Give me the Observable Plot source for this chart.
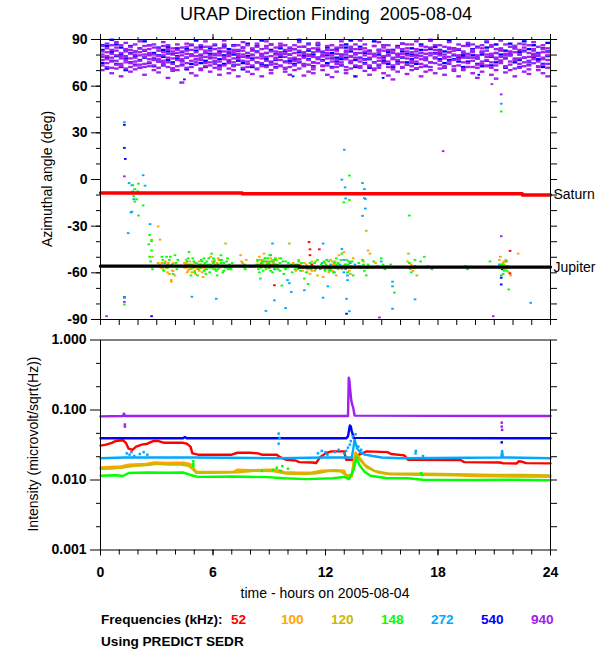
<!DOCTYPE html>
<html><head><meta charset="utf-8">
<script src="https://cdn.jsdelivr.net/npm/d3@7"></script>
<script src="https://cdn.jsdelivr.net/npm/@observablehq/plot@0.6"></script>
<style>
body{margin:0;background:#fff;font-family:"Liberation Sans",Arial,sans-serif;}
#wrap{position:relative;width:600px;height:650px;overflow:hidden;background:#fff;}
.abs{position:absolute;white-space:pre;line-height:16px;}
g[aria-label$="tick label"] text, g[aria-label$="tick label"]{font-weight:bold;}
</style></head><body><div id="wrap"></div>
<script>
// ---------- axes / labels ----------
const hourTicks = [0,1,2,3,4,5,6,7,8,9,10,11,12,13,14,15,16,17,18,19,20,21,22,23,24];
const hourMajor = [0,6,12,18,24];
const angleMajor = [-90,-60,-30,0,30,60,90];
const angleAll = [-90,-80,-70,-60,-50,-40,-30,-20,-10,0,10,20,30,40,50,60,70,80,90];
const intMajor = [0.001,0.01,0.1,1];
const intMinor = [0.00215,0.00464,0.0215,0.0464,0.215,0.464];
const freqLabels = ["52","100","120","148","272","540","940"];
const freqColors = ["#ff0000","#ffa500","#ccb800","#00ff00","#00a8ff","#0000ff","#a020f0"];
const title = "URAP Direction Finding  2005-08-04";
const yLabelTop = "Azimuthal angle (deg)";
const yLabelBottom = "Intensity (microvolt/sqrt(Hz))";
const xLabel = "time - hours on 2005-08-04";

// ---------- planets (azimuth, deg) ----------
const saturnT = [0, 7.56, 7.56, 22.5, 22.5, 24];
const saturnA = [-8.6, -8.6, -9.2, -9.2, -9.9, -9.9];
const jupiterT = [0, 10.6, 10.6, 24];
const jupiterA = [-55.7, -55.7, -56.3, -56.3];

// ---------- dense 65-90 deg band: "hour: angles" ----------
const band940 = `0:85.5 80 76.5 73 82 78.5 70
0.25:87 81.5 77 74.5 79 72 84
0.5:83 78 75.5 71.5 80.5 86 68
0.75:84.5 79.5 76 73.5 82.5 71 88
1:86 81 77.5 74 78.5 72.5 66
1.25:82 79 75 83.5 76.5 71 87.5
1.5:85 80.5 74.5 72 77.5 83 69
1.75:86.5 82 78 75.5 80 73 70.5
2:84 79.5 76 71.5 81.5 73.5 88.5
2.25:83 78.5 74 80 85.5 72 67
2.5:86 81 77 75 79.5 72.5 83.5
2.75:84.5 80 76.5 73 78 70 86.5
3:82.5 79 75.5 71.5 77 84 68.5
3.25:85.5 81.5 76 73.5 79.5 74.5 88
3.5:83.5 78 75 72 80.5 86 65
3.75:84 80 77.5 74 82 71 69.5
4:86.5 81 76.5 72.5 78.5 83 70
4.25:82 79.5 75.5 73 84.5 77 62
4.5:85 80.5 78 74.5 82.5 71.5 87
4.75:83 79 76 72 80 86.5 68
5:84.5 81.5 77 73.5 75 79 66.5
5.25:86 80 76.5 71 78 83.5 70
5.5:82.5 78.5 74.5 72.5 81 85 88.5
5.75:85 79.5 77.5 75 82.5 73 69
6:83.5 80.5 76 74 78 86.5 71.5
6.25:84 81 75.5 72 79.5 70.5 67
6.5:86.5 78.5 77 73 82 84.5 89
6.75:82 80 76.5 74.5 79 71 68
7:85.5 81.5 75 72.5 77.5 83 70
7.25:83 79 77 73.5 80.5 86 66
7.5:84.5 80 76 71.5 78.5 82.5 88
7.75:86 81 78 74 75.5 72 69
8:82.5 79.5 76.5 73 80 84 67.5
8.25:85 78 75 71 81.5 87 70.5
8.5:83.5 80.5 77.5 74.5 79 72.5 66
8.75:84 81 76 72 78.5 85.5 88.5
9:86.5 79 75.5 73.5 82 70 68
9.25:82 80 77 74 78 84.5 71.5
9.5:85.5 81.5 76.5 72.5 79.5 73 87
9.75:83 78.5 75 71.5 80.5 86 69
10:84.5 80 77.5 74.5 82.5 72 67
10.25:86 81 76 73 78 83.5 70
10.5:82.5 79.5 75.5 71 77 85 88
10.75:85 80.5 78 74 81.5 72.5 66.5
11:83.5 79 76.5 73.5 80 86.5 69
11.25:84 81.5 75 72 78.5 70.5 68
11.5:86.5 78 77 74.5 82 84 87.5
11.75:82 80 76 72.5 79 73 70
12:85.5 81 77.5 73 80.5 83 67
12.25:83 79.5 75.5 71.5 78 86 65.5
12.5:84.5 80.5 76.5 74 82.5 72 69
12.75:86 78.5 75 73.5 79.5 84.5 88.5
13:82.5 81.5 77 72 80 70 68
13.25:85 79 76 74.5 78.5 83.5 71
13.5:83.5 80 78 73 81 86.5 66
13.75:84 81 75.5 71.5 77.5 72.5 89
14:86.5 79.5 76.5 74 82 84 69.5
14.25:82 78 77.5 72.5 80.5 73 67
14.5:85.5 80.5 75 71 79 85.5 70
14.75:83 81.5 76 73.5 78 71.5 88
15:84.5 79 77 74.5 82.5 86 68
15.25:86 80 75.5 72 79.5 83 66.5
15.5:82.5 81 78 73 77 70.5 64
15.75:85 78.5 76.5 74 80.5 84.5 69
16:83.5 80.5 75 71.5 78.5 72 87
16.25:84 79.5 77.5 73.5 82 86.5 67.5
16.5:86.5 81.5 76 72.5 79 74.5 70
16.75:82 80 75.5 71 78 83.5 88.5
17:85.5 79 77 74 81 72 66
17.25:83 78 76.5 73 80.5 85 69
17.5:84.5 81 75 72 79.5 70 89.5
17.75:86 80.5 78 74.5 77.5 83 68
18:82.5 79.5 76 73.5 81.5 86 71
18.25:85 78.5 77.5 71.5 80 72.5 67
18.5:83.5 81.5 75.5 74 78.5 84.5 88
18.75:84 80 76.5 72.5 82.5 70.5 69.5
19:86.5 79 77 73 79.5 83.5 66
19.25:82 81 75 71 78 85.5 70
19.5:85.5 80.5 78 74.5 80 72 87.5
19.75:83 78 76 72 81.5 86.5 68
20:84.5 79.5 77.5 73.5 79 71.5 65
20.25:86 81.5 75.5 74 82 84 69
20.5:82.5 80 76.5 72.5 78.5 73 88.5
20.75:85 79 75 71.5 80.5 86 67
21:83.5 81 77 73 78 70 64.5
21.25:84 78.5 76 74.5 82.5 83 89
21.5:86.5 80.5 78 72 79.5 72.5 68.5
21.75:82 79.5 75.5 73.5 81 85 70
22:85.5 81.5 76.5 71 77.5 84 66
22.25:83 80 77.5 74 80 71.5 87
22.5:84.5 78 75 72.5 82 86.5 69
22.75:86 81 76 73 78.5 70.5 67.5
23:82.5 79 77 74.5 80.5 83.5 88
23.25:85 80.5 75.5 72 79 72.5 70
23.5:83.5 81.5 78 73.5 77 86 68
23.75:84 79.5 76.5 71.5 81.5 74 66`;

const band540 = `0:83 74.5 86
0.25:78 71 85.5
0.5:81.5 76 89.5
0.75:74 86.5 79
1:80 72 84.5
1.25:77.5 83 70
1.5:85.5 75 81
1.75:79 73.5 82
2:76.5 84 71.5
2.25:82.5 78 88.5
2.5:74.5 80 86
2.75:81 77 72.5
3:84.5 75.5 79.5
3.25:78.5 73 83
3.5:82 76.5 85
3.75:75 80.5 71
4:79 84 77.5
4.25:76 81.5 73.5
4.5:83.5 78 70.5
4.75:80 74 86
5:77 82.5 89
5.25:74.5 79.5 85
5.5:81 76 72
5.75:84 78 80.5
6:75.5 80 86
6.25:82 77 73
6.5:79.5 74 85.5
6.75:83.5 76 81
7:80 73 86
7.25:76 82.5 78.5
7.5:84.5 74.5 70.5
7.75:79 81 87
8:77.5 83 72
8.25:82 75 85.5
8.5:74 80 89
8.75:81 77 73
9:83 75 86.5
9.25:76.5 80.5 72
9.5:84 78.5 80
9.75:75.5 82 71
10:80 76 84
10.25:77 83.5 74
10.5:81.5 75 89.5
10.75:79 73.5 85
11:82.5 77 87
11.25:75 80 72.5
11.5:83 78 86
11.75:76.5 81.5 79
12:79.5 74.5 84.5
12.25:81 77.5 72
12.5:83.5 75.5 78
12.75:77 80 73
13:84.5 78 86.5
13.25:75 82 89
13.5:80.5 76.5 72
13.75:78 83.5 85
14:74.5 81 77
14.25:82.5 77 71.5
14.5:79 75 88.5
14.75:83 80 73
15:76 78.5 86
15.25:81.5 74 79.5
15.5:77.5 83 72
15.75:80 75.5 85.5
16:82 78 87
16.25:75 80.5 73.5
16.5:84 77 80
16.75:79.5 74 71
17:81 83 86.5
17.25:76.5 78 72.5
17.5:83.5 75 89
17.75:78 81 85
18:80.5 77 83
18.25:74.5 82 71.5
18.5:81.5 76.5 89
18.75:77 79.5 84
19:83 75.5 78
19.25:79 80.5 72
19.5:75.5 78 86
19.75:82 83.5 79.5
20:77.5 74 85
20.25:80 81.5 72.5
20.5:84.5 76 88
20.75:78.5 79 73
21:81 75 86.5
21.25:76 83 80
21.5:82.5 77.5 71.5
21.75:79.5 80 87
22:75 84 85.5
22.25:81.5 76.5 72
22.5:78 82.5 88.5
22.75:83.5 75.5 73.5
23:80 78.5 86
23.25:76.5 81 77
23.5:84 74 72
23.75:79 82 87.5`;

// ---------- other direction-finding points: "hour angle; ..." ----------
const df940 = `1.3 1.7; 1.3 -79; 0.35 -88.2; 14.9 -89; 20.97 -88.2; 18.3 17.9; 21.4 -36.8; 21.4 54.4; 4.3 62; 20.9 61`;
const df540 = `1.3 34.8; 1.3 20; 1.35 12.9; 1.3 -76; 2.75 -88.2; 13.15 -86.6; 21.4 -63.5; 21.4 -67.8; 21.45 -58; 4.5 64; 10.3 66; 15.1 65; 20.2 67; 13.6 66`;
const df272 = `1.3 36.5; 1.55 -2.6; 1.7 -4; 1.75 -8; 1.8 -13; 1.7 -21; 1.65 -21.5; 2.3 2.4; 2.4 -4.3; 2.67 -29; 1.5 -34.8; 1.3 -76.3;
5.0 -56; 4.9 -75.7; 6.2 -77; 8.85 -84.8; 9.3 -78; 9.2 -41.5; 8.9 -53; 9.05 -57; 9.1 -49; 9.9 -83; 10.2 -72.6; 10.0 -65; 10.1 -67; 10.9 -71.5;
11.9 -41.5; 11.85 -54; 12.0 -58; 11.9 -76.3; 12.9 -0.4; 13.03 18.8; 13.07 -5.4; 13.1 -12.5; 14.0 -2.6; 14.1 -6.5; 14.1 -12.3; 14.15 -12.8;
14.15 -19; 14.0 -23.7; 12.9 -45; 13.0 -52; 12.8 -55; 13.1 -58; 13.2 -62; 12.5 -60; 12.1 -52; 12.15 -69; 13.2 -65; 13.6 -55; 15.0 -53;
15.6 -66; 15.6 -69; 15.6 -83.4; 16.8 -56; 16.8 -77.4; 13.15 -77; 21.4 48.4; 21.4 -62; 22.97 -79.6; 13.3 -85;
9.0 -55; 9.3 -58; 10.65 -57; 11.75 -58; 12.3 -55; 12.65 -57; 13.0 -60; 13.35 -54; 21.3 -55`;
const df120 = `2.75 -39; 2.8 -50; 3.1 -54; 3.5 -57; 3.7 -61; 3.8 -66; 3.9 -59; 4.2 -56; 4.6 -52; 4.75 -58; 4.9 -55; 5.05 -59; 5.3 -53;
5.45 -57; 5.7 -56; 6.05 -58; 6.35 -52; 6.7 -41.5; 6.85 -57; 7.55 -53; 8.45 -55; 8.65 -52; 8.85 -58; 9.25 -54; 9.55 -51; 10.1 -41.5;
10.15 -56; 10.7 -55; 11.05 -58; 11.3 -53; 11.55 -57; 12.1 -56; 12.4 -53; 12.7 -58; 13.05 -55; 13.35 -61; 14.2 -33.3; 14.05 -53;
14.5 -57; 16.45 -48; 16.55 -58; 16.9 -62; 21.35 -50; 21.55 -55; 21.7 -57; 21.65 -52;
3.25 -57; 3.6 -55; 4.5 -57; 4.7 -55; 5.0 -57; 5.4 -55; 5.6 -58; 8.55 -55; 8.8 -53; 9.05 -55; 10.5 -56; 10.95 -56; 11.35 -57;
12.2 -58; 12.55 -55; 12.95 -56; 13.25 -53; 21.5 -57`;
const df100 = `3.1 -30.5; 3.2 -39; 3.2 -55; 3.35 -58; 3.45 -56; 3.5 -53; 3.6 -60; 3.65 -54; 3.75 -56; 3.8 -65; 3.9 -54; 4.0 -62;
4.5 -54; 4.55 -55; 4.6 -57; 4.65 -60; 4.7 -59; 4.8 -53; 4.85 -58; 4.95 -56; 5.05 -54; 5.1 -61; 5.2 -58; 5.25 -56; 5.35 -55; 5.45 -60;
5.5 -63; 5.6 -57; 5.9 -50; 6.0 -53; 6.05 -56; 6.15 -55; 6.3 -51; 6.4 -57; 7.5 -49; 7.6 -54; 7.7 -57; 7.8 -52;
8.4 -53; 8.5 -50; 8.55 -52; 8.6 -56; 8.7 -55; 8.75 -48; 8.9 -54; 9.05 -57; 9.1 -51; 9.2 -52; 9.35 -55;
10.3 -54; 10.4 -55; 10.5 -57; 10.6 -52; 10.7 -56; 10.8 -59; 10.9 -54; 11.0 -55; 11.1 -58; 11.2 -61; 11.3 -59; 11.4 -56; 11.5 -53;
11.6 -62; 11.9 -63; 11.8 -57; 12.0 -54; 12.15 -57; 12.2 -60; 12.3 -52; 12.45 -55; 12.5 -56; 12.6 -62; 12.75 -49; 12.9 -58; 13.0 -47;
13.2 -55; 13.3 -59; 13.4 -57; 13.5 -51; 14.3 -46; 14.4 -48; 14.7 -54; 15.3 -56; 16.4 -53; 16.6 -55; 16.7 -59; 16.8 -57;
21.3 -52; 21.4 -56; 21.5 -54; 21.6 -58; 21.7 -53; 21.8 -60; 21.9 -62; 22.3 -48;
3.3 -54; 3.55 -57; 3.85 -59; 4.6 -54; 4.75 -56; 4.9 -60; 5.15 -57; 5.3 -59; 5.4 -57; 5.55 -55; 6.1 -52; 6.25 -54; 8.45 -56;
8.65 -54; 8.8 -51; 8.95 -56; 9.0 -53; 9.15 -55; 9.3 -52; 10.45 -59; 10.65 -55; 10.85 -57; 11.05 -60; 11.25 -56; 11.45 -59;
12.05 -58; 12.25 -56; 12.4 -59; 12.55 -53; 12.7 -57; 13.1 -56; 21.45 -57; 21.55 -53; 21.75 -56`;
const df148 = `1.3 -80.7; 1.75 -4; 1.85 -6.5; 1.9 -9; 1.8 -11; 2.0 -8; 1.95 -13; 1.85 -14.5; 2.05 -3; 2.3 -17; 2.05 -23.5;
2.6 -42; 2.75 -40; 2.65 -36; 2.65 -50; 2.7 -53; 2.6 -56; 2.8 -58; 2.75 -46;
3.3 -50; 3.35 -52; 3.45 -54; 3.55 -50; 3.6 -57; 3.7 -52; 3.85 -55; 4.0 -49; 4.05 -54; 4.1 -58; 3.9 -61;
4.7 -51; 4.75 -47; 4.8 -55; 4.9 -57; 5.0 -53; 5.05 -60; 5.15 -54; 5.25 -58; 4.85 -62;
5.35 -57; 5.4 -52; 5.45 -53; 5.5 -56; 5.55 -59; 5.6 -54; 5.65 -61; 5.7 -58; 5.75 -55; 5.8 -51; 5.85 -57; 5.9 -55; 5.95 -48;
6.0 -57; 6.05 -54; 6.1 -53; 6.15 -58; 6.2 -59; 6.25 -62; 6.3 -55; 6.35 -56; 6.4 -52; 6.45 -49; 6.5 -56; 6.55 -60; 6.6 -54;
6.6 -59; 6.7 -57; 6.75 -53; 6.8 -51; 6.9 -55; 6.95 -57; 7.0 -58; 7.7 -55; 7.75 -58;
8.4 -52; 8.45 -58; 8.5 -56; 8.55 -64; 8.6 -54; 8.65 -53; 8.7 -59; 8.8 -51; 8.9 -55; 8.95 -51; 9.0 -57; 9.05 -49; 9.1 -53;
9.15 -56; 9.2 -60; 9.3 -55; 9.35 -58; 9.4 -52; 9.45 -55; 9.5 -58; 9.6 -54; 9.65 -51; 9.7 -56; 9.7 -68.5; 9.8 -61; 9.85 -57;
9.9 -53; 10.0 -57; 10.2 -55; 10.25 -60; 10.4 -58; 10.5 -55; 10.6 -53; 10.7 -59; 10.8 -56; 10.9 -64; 11.0 -60; 11.1 -67.5;
11.2 -54; 11.3 -55; 11.4 -57; 11.5 -58; 11.6 -52; 11.8 -55; 12.0 -59; 12.05 -55; 12.2 -53;
11.9 -56; 12.1 -52; 12.3 -58; 12.35 -57; 12.45 -60; 12.5 -54; 12.6 -51; 12.7 -54; 12.8 -57; 12.9 -48; 13.0 -15; 13.1 -55;
13.15 -52; 13.2 -60; 13.3 -53; 13.3 2.2; 13.3 -13.5; 13.4 -56; 13.5 -62; 13.8 -54; 13.9 -57; 14.0 -52; 14.1 -59; 14.2 -62; 14.3 -55;
14.6 -53; 14.8 -56; 15.0 -51; 15.1 -55; 15.2 -58; 15.5 -55; 15.7 -73; 16.5 -23.5; 16.5 -54; 16.6 -60; 16.7 -57; 16.8 -52;
17.1 -53; 17.3 -50; 17.5 -56; 17.7 -58; 19.5 -56; 19.6 -58; 20.8 -53;
21.3 -57; 21.4 43.4; 21.45 -55; 21.5 -61; 21.55 -59; 21.65 -53; 21.75 -57; 21.8 -71;
3.25 -56; 3.4 -59; 3.75 -50; 4.15 -52; 4.55 -56; 4.65 -53; 4.95 -51; 5.1 -56; 5.2 -62; 5.3 -55; 5.55 -51; 5.7 -53; 5.85 -60;
6.05 -51; 6.2 -56; 6.3 -58; 6.45 -54; 6.5 -52; 6.65 -56; 6.85 -58; 7.05 -54; 8.35 -55; 8.5 -60; 8.6 -57; 8.75 -53; 8.85 -57;
9.0 -54; 9.1 -59; 9.25 -53; 9.35 -51; 9.55 -56; 9.6 -59; 9.75 -53; 9.9 -58; 10.05 -54; 10.35 -56; 10.55 -58; 10.75 -54;
11.05 -56; 11.25 -58; 11.45 -54; 11.7 -57; 11.95 -53; 12.15 -56; 12.25 -59; 12.55 -57; 12.65 -55; 12.85 -52; 13.05 -57;
13.25 -55; 13.45 -53; 13.85 -56; 14.05 -55; 14.25 -57; 21.35 -55; 21.6 -56; 21.7 -59`;
const df52 = `11.15 -40.5; 11.2 -45.2; 11.2 -49; 11.7 -45.2; 9.3 -68.3; 21.87 -46.2; 21.87 -60.7; 11.3 -55`;

// ---------- intensity (microvolt/sqrt(Hz)): "hour value; ..." ----------
const int940 = `0 0.081; 1.2 0.082; 1.25 0.089; 1.3 0.082; 13.2 0.082; 13.24 0.29; 13.27 0.27; 13.3 0.22; 13.33 0.18; 13.37 0.14;
13.42 0.12; 13.47 0.11; 13.5 0.1; 13.55 0.083; 24 0.082`;
const int540 = `0 0.0394; 4.4 0.0394; 4.5 0.041; 4.6 0.0394; 13.1 0.0394; 13.2 0.042; 13.3 0.06; 13.35 0.058; 13.4 0.05; 13.45 0.045;
13.5 0.04; 24 0.0394`;
const int272 = `0 0.0205; 1.3 0.021; 1.5 0.021; 5 0.021; 9.5 0.0205; 12 0.021; 13.4 0.021; 13.5 0.03; 13.55 0.038; 13.6 0.034;
13.7 0.028; 13.85 0.025; 14.1 0.023; 14.5 0.022; 15.0 0.021; 16 0.0205; 21.38 0.021; 21.42 0.026; 21.46 0.021; 24 0.0205`;
const int52 = `0 0.031; 0.3 0.032; 0.6 0.034; 0.8 0.036; 1.2 0.037; 1.35 0.034; 1.5 0.028; 1.7 0.027; 1.9 0.03; 2.2 0.032; 2.5 0.033;
2.8 0.036; 3.1 0.036; 3.4 0.034; 4.0 0.034; 4.4 0.034; 4.6 0.033; 4.8 0.03; 4.9 0.024; 5.2 0.023; 6.0 0.023; 7.0 0.023;
7.3 0.0245; 8.0 0.0245; 8.4 0.024; 8.6 0.023; 9.4 0.023; 9.6 0.021; 9.9 0.0195; 10.4 0.019; 10.6 0.018; 11.3 0.0178;
11.5 0.0175; 11.7 0.021; 12.0 0.024; 12.3 0.0256; 13.0 0.0256; 13.1 0.0195; 13.5 0.0195; 13.6 0.022; 14.2 0.0256;
15.3 0.025; 15.5 0.0235; 16.2 0.0225; 16.4 0.0195; 19.2 0.0193; 19.4 0.018; 21.3 0.0178; 21.5 0.0173; 22.2 0.0172;
22.3 0.0185; 22.5 0.0182; 22.7 0.0174; 24 0.0173`;
const int100 = `0 0.0151; 0.5 0.0153; 1.1 0.0156; 1.5 0.0165; 2.4 0.0169; 2.9 0.0178; 3.5 0.0175; 4.0 0.0177; 4.5 0.0176; 4.8 0.0168;
4.95 0.015; 5.1 0.0131; 6.0 0.013; 7.1 0.0131; 7.3 0.014; 8.0 0.0138; 9.0 0.014; 9.4 0.0139; 9.8 0.0129; 10.6 0.0127;
11.3 0.0128; 11.8 0.0136; 12.5 0.0138; 13.0 0.0136; 13.1 0.0115; 13.4 0.0112; 13.5 0.018; 13.6 0.0248; 13.8 0.02; 14.2 0.0151;
14.8 0.0128; 15.5 0.0121; 17.0 0.0119; 18.8 0.0117; 20 0.0114; 22 0.0112; 24 0.0111`;
const int120 = `0 0.0145; 0.6 0.0146; 1.2 0.015; 1.7 0.0158; 2.5 0.0163; 3.0 0.017; 3.6 0.0166; 4.2 0.0168; 4.7 0.016; 4.9 0.0145;
5.1 0.0127; 6.0 0.0127; 7.3 0.0129; 8.2 0.0135; 9.2 0.0134; 9.9 0.0124; 10.8 0.0122; 11.5 0.0125; 12.2 0.0135; 12.8 0.0133;
13.1 0.0118; 13.4 0.0115; 13.55 0.02; 13.65 0.0235; 13.8 0.021; 14.1 0.0165; 14.6 0.0135; 15.3 0.0124; 17.0 0.0123;
19 0.0121; 21 0.0118; 22.5 0.0118; 24 0.0116`;
const int148 = `0 0.0115; 0.8 0.0117; 1.2 0.0114; 1.5 0.0126; 2.5 0.0128; 3.5 0.0127; 4.4 0.0128; 4.8 0.0118; 5.2 0.0111; 7.0 0.0112;
8.9 0.011; 9.8 0.0106; 11.0 0.0103; 12.4 0.0106; 13.0 0.0111; 13.25 0.0103; 13.5 0.014; 13.65 0.021; 13.8 0.0165; 14.1 0.013;
14.4 0.0115; 15.2 0.0107; 16.4 0.0106; 17.2 0.0101; 20 0.01; 22 0.0101; 24 0.0099`;
// scattered intensity samples
const spk940 = `1.3 0.062; 1.3 0.058; 21.4 0.066; 21.4 0.058; 21.42 0.052`;
const spk540 = `21.4 0.0345`;
const spk272 = `1.4 0.024; 1.55 0.023; 1.65 0.025; 1.8 0.022; 2.1 0.0235; 2.3 0.025; 2.5 0.023; 9.5 0.046; 9.55 0.04; 9.5 0.033;
11.6 0.024; 11.8 0.026; 12.0 0.025; 12.1 0.023; 12.5 0.025; 12.7 0.027; 13.0 0.024; 13.1 0.026; 13.2 0.029; 13.3 0.032;
13.35 0.036; 13.45 0.042; 13.6 0.045; 13.75 0.03; 13.9 0.027; 16.8 0.024; 16.82 0.026; 17.2 0.022`;
const spk148 = `4.95 0.0185; 4.95 0.017; 4.95 0.0158; 9.2 0.014; 9.4 0.015; 9.6 0.0135; 9.7 0.0158; 10.0 0.0145; 8.6 0.0135; 17.1 0.0125; 17.15 0.0118`;

// ---------- parsing ----------
function pairs(s){return s.split(";").map(p=>p.trim()).filter(Boolean).map(p=>{const [a,b]=p.split(/\s+/).map(Number);return {t:a,v:b};});}
function band(s){const out=[];s.trim().split("\n").forEach(line=>{const [t,vals]=line.split(":");vals.trim().split(/\s+/).forEach(v=>out.push({t:+t,v:+v}));});return out;}

const FONT = "'Liberation Sans', Arial, Helvetica, sans-serif";
const C = {f52:freqColors[0],f100:freqColors[1],f120:freqColors[2],f148:freqColors[3],f272:freqColors[4],f540:freqColors[5],f940:freqColors[6]};
const blank = () => "";

const bandRect = (data, fill) => Plot.rect(data, {x1:d=>d.t, x2:d=>d.t+0.25, y1:d=>d.v-0.75, y2:d=>d.v+0.75, fill});
const dfRect = (data, fill) => Plot.rect(data, {x1:d=>d.t-0.07, x2:d=>d.t+0.07, y1:d=>d.v-0.6, y2:d=>d.v+0.6, fill});

const saturn = saturnT.map((t,i)=>({t, v:saturnA[i]}));
const jupiter = jupiterT.map((t,i)=>({t, v:jupiterA[i]}));

const topPlot = Plot.plot({
  width:600, height:330, marginLeft:100, marginRight:50, marginTop:39, marginBottom:11,
  style:{fontFamily:FONT, background:"white", color:"black", fontSize:"14px"},
  x:{domain:[0,24]}, y:{domain:[-90,90]},
  marks:[
    bandRect(band(band540), C.f540),
    bandRect(band(band940), C.f940),
    dfRect(pairs(df940), C.f940),
    dfRect(pairs(df540), C.f540),
    dfRect(pairs(df272), C.f272),
    dfRect(pairs(df120), C.f120),
    dfRect(pairs(df100), C.f100),
    dfRect(pairs(df148), C.f148),
    dfRect(pairs(df52), C.f52),
    Plot.line(saturn, {x:"t", y:"v", stroke:"#ff0000", strokeWidth:3.5}),
    Plot.line(jupiter, {x:"t", y:"v", stroke:"black", strokeWidth:3.2}),
    Plot.text([saturn[saturn.length-1]], {x:"t", y:"v", text:()=>"Saturn", textAnchor:"start", dx:3, fontSize:14}),
    Plot.text([jupiter[jupiter.length-1]], {x:"t", y:"v", text:()=>"Jupiter", textAnchor:"start", dx:3, fontSize:14}),
    Plot.axisY({anchor:"left", ticks:angleMajor, tickSize:9, tickPadding:4, fontSize:14, fontWeight:"bold", label:null, tickFormat:d=>String(d)}),
    Plot.axisY({anchor:"left", ticks:angleAll, tickSize:4, tickFormat:blank, label:null}),
    Plot.axisY({anchor:"right", ticks:angleAll, tickSize:6, tickFormat:blank, label:null}),
    Plot.axisX({anchor:"top", ticks:hourMajor, tickSize:6, tickFormat:blank, label:null}),
    Plot.axisX({anchor:"top", ticks:hourTicks, tickSize:3, tickFormat:blank, label:null}),
    Plot.axisX({anchor:"bottom", ticks:hourTicks, tickSize:6, tickFormat:blank, label:null}),
    Plot.frame({stroke:"black"})
  ]
});

const sLine = (s, stroke) => Plot.line(pairs(s), {x:"t", y:"v", stroke, strokeWidth:2.4});
const sDot = (s, fill) => Plot.dot(pairs(s), {x:"t", y:"v", fill, r:1.4, symbol:"square"});

const botPlot = Plot.plot({
  width:600, height:270, marginLeft:100, marginRight:50, marginTop:9.5, marginBottom:50.5,
  style:{fontFamily:FONT, background:"white", color:"black", fontSize:"14px"},
  x:{domain:[0,24]}, y:{type:"log", domain:[0.001,1]},
  marks:[
    sLine(int52, C.f52),
    sLine(int100, C.f100),
    sLine(int120, C.f120),
    sLine(int148, C.f148),
    sLine(int272, C.f272),
    sLine(int540, C.f540),
    sLine(int940, C.f940),
    sDot(spk148, C.f148),
    sDot(spk272, C.f272),
    sDot(spk540, C.f540),
    sDot(spk940, C.f940),
    Plot.axisY({anchor:"left", ticks:intMajor, tickSize:10, tickPadding:4, fontSize:14, fontWeight:"bold", label:null, tickFormat:d3.format(".3f")}),
    Plot.axisY({anchor:"left", ticks:intMinor, tickSize:4, tickFormat:blank, label:null}),
    Plot.axisY({anchor:"right", ticks:intMajor.concat(intMinor), tickSize:6, tickFormat:blank, label:null}),
    Plot.axisX({anchor:"bottom", ticks:hourMajor, tickSize:6, tickPadding:11, fontSize:14, fontWeight:"bold", label:null, tickFormat:d=>String(d)}),
    Plot.axisX({anchor:"bottom", ticks:hourTicks, tickSize:5, tickFormat:blank, label:null}),
    Plot.frame({stroke:"black"})
  ]
});

const wrap = document.getElementById("wrap");
function place(el, top){el.style.position="absolute";el.style.left="0px";el.style.top=top+"px";wrap.appendChild(el);}
place(topPlot, 0);
place(botPlot, 330);

function addText(txt, left, top, css){const d=document.createElement("div");d.className="abs";d.textContent=txt;d.style.left=left+"px";d.style.top=top+"px";Object.assign(d.style,css||{});wrap.appendChild(d);return d;}
addText(title, 326, 4, {fontSize:"18px", lineHeight:"20px", transform:"translateX(-50%)"});
addText(yLabelTop, 47, 179, {fontSize:"14px", transform:"translate(-50%,-50%) rotate(-90deg)"});
addText(yLabelBottom, 33, 444, {fontSize:"14px", transform:"translate(-50%,-50%) rotate(-90deg)"});
addText(xLabel, 325, 593, {fontSize:"14px", transform:"translate(-50%,-50%)"});
addText("Frequencies (kHz):", 101, 612, {fontSize:"13.6px", fontWeight:"bold"});
const legendLeft = [231,281,331,381,431,481,531];
freqLabels.forEach((f,i)=>addText(f, legendLeft[i], 612, {fontSize:"13.6px", fontWeight:"bold", color:freqColors[i]}));
addText("Using PREDICT SEDR", 101, 634, {fontSize:"13.6px", fontWeight:"bold"});
</script></body></html>
